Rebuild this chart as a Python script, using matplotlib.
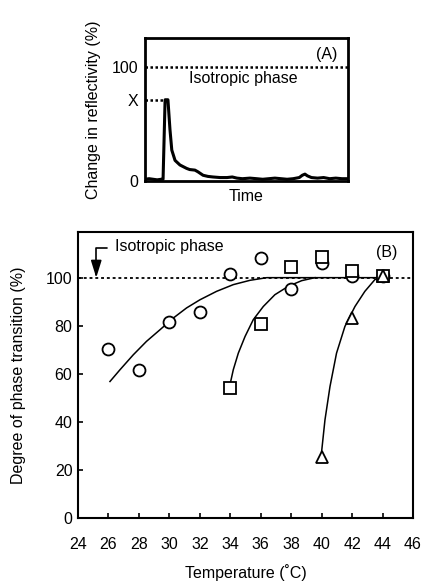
import matplotlib
matplotlib.use("Agg")
import matplotlib.pyplot as plt

plt.rcParams["font.family"] = ["Liberation Sans", "DejaVu Sans"]
plt.rcParams["font.size"] = 11.5

# panel A: reflectivity trace (time in arbitrary units 0-100)
time_a = [0, 2, 4, 6, 8, 8.9, 9.9, 10.5, 11.3, 12.3, 13.2, 14.8, 17.2, 20.5, 22,
          24.6, 26.1, 28.6, 31, 33.5, 37, 40.4, 43, 45.3, 48, 51.7, 55, 58, 61,
          64, 67, 70, 73, 76, 77.5, 78.8, 80, 82, 85, 88, 91, 94, 97, 100]
refl_a = [1.5, 2, 1.5, 1, 1.5, 1.5, 71, 71, 71, 45, 27, 18, 14, 11, 10,
          9.5, 8, 5, 4, 3.5, 3, 3, 3.5, 2.5, 2, 2.5, 2, 1.5, 2,
          2.5, 2, 1.5, 2, 3, 5, 6, 4.5, 3, 2.5, 3, 2, 2.5, 2, 2]
x_level = 71
peak_time = 10.5
yticks_a = [0, x_level, 100]
yticklabels_a = ["0", "X", "100"]

# panel B: degree of phase transition vs temperature
temp_circ = [26, 28, 30, 32, 34, 36, 38, 40, 42, 44]
deg_circ = [70.3, 61.7, 81.4, 85.6, 101.7, 108.3, 95.3, 106, 100.6, 100.6]
temp_sq = [34, 36, 38, 40, 42, 44]
deg_sq = [54.3, 80.7, 104.3, 108.6, 102.6, 100.6]
temp_tri = [40, 42, 44]
deg_tri = [25.5, 83.2, 100.6]

# fitted curves
fit1_t = [26.1, 26.76, 27.63, 28.5, 29.38, 30.26, 31.13, 32.01, 33.1, 34.2,
          35.3, 36.4, 44]
fit1_y = [56.8, 61.7, 67.9, 73.5, 78.3, 83.2, 87.4, 90.8, 94.3, 97.1,
          98.9, 100, 100]
fit2_t = [33.98, 34.2, 34.53, 34.97, 35.51, 36.17, 36.93, 37.81, 38.69, 39.56]
fit2_y = [55.4, 61.7, 68.6, 75.5, 82.5, 88, 92.9, 96.4, 98.75, 100]
fit3_t = [40.0, 40.22, 40.55, 40.98, 41.53, 42.19, 42.84, 43.5, 43.83]
fit3_y = [27.6, 40.8, 54.7, 68.6, 79.7, 88, 94.3, 99.2, 100]

xticks_b = list(range(24, 47, 2))
yticks_b = list(range(0, 101, 20))

fig = plt.figure(figsize=(4.22, 5.81), dpi=100)

# ---- panel A
ax_a = fig.add_axes([0.3436, 0.6885, 0.481, 0.2461])
ax_a.plot(time_a, refl_a, color="black", lw=2.2, solid_joinstyle="round")
ax_a.axhline(100, color="black", lw=1.8, ls=(0, (1, 1)))
ax_a.plot([0, peak_time], [x_level, x_level], color="black", lw=1.8, ls=(0, (1, 1)))
ax_a.text(48.5, 89.5, "Isotropic phase", ha="center", va="center")
ax_a.text(89.6, 111, "(A)", ha="center", va="center")
ax_a.set_xlim(0, 100)
ax_a.set_ylim(0, 125)
ax_a.set_xticks([])
ax_a.set_yticks(yticks_a)
ax_a.set_yticklabels(yticklabels_a)
ax_a.tick_params(axis="y", length=0, pad=5)
for s in ax_a.spines.values():
    s.set_linewidth(2)
ax_a.set_xlabel("Time", va="center")
ax_a.xaxis.set_label_coords(0.5, -0.112)
ax_a.set_ylabel("Change in reflectivity (%)", va="center")
ax_a.yaxis.set_label_coords(-0.256, 0.5)

# ---- panel B
ax_b = fig.add_axes([0.1848, 0.1084, 0.7938, 0.4923])
for t, y in [(fit1_t, fit1_y), (fit2_t, fit2_y), (fit3_t, fit3_y)]:
    ax_b.plot(t, y, color="black", lw=1.1, zorder=2, solid_joinstyle="round")
ax_b.axhline(100, color="black", lw=1.3, ls=(0, (1.6, 1.6)), zorder=1)

mk = dict(ls="none", mfc="white", mec="black", mew=1.3, zorder=3)
ax_b.plot(temp_circ, deg_circ, marker="o", ms=8.6, **mk)
ax_b.plot(temp_sq, deg_sq, marker="s", ms=8.4, **mk)
ax_b.plot(temp_tri, deg_tri, marker="^", ms=9.2, **mk)

ax_b.annotate("", xy=(25.2, 100), xytext=(25.9, 112.4),
              arrowprops=dict(arrowstyle="-|>,head_length=0.9,head_width=0.28",
                              connectionstyle="angle,angleA=0,angleB=90,rad=0",
                              color="black", lw=1.2, shrinkA=0, shrinkB=0))
ax_b.text(26.4, 113, "Isotropic phase", ha="left", va="center")
ax_b.text(44.3, 110.4, "(B)", ha="center", va="center")

ax_b.set_xlim(24, 46)
ax_b.set_ylim(0, 119)
ax_b.set_xticks(xticks_b)
ax_b.set_yticks(yticks_b)
ax_b.tick_params(direction="in", length=3.5, width=1.2)
ax_b.tick_params(axis="x", pad=14)
ax_b.tick_params(axis="y", pad=4)
for s in ax_b.spines.values():
    s.set_linewidth(1.5)
ax_b.set_xlabel("Temperature (\u02daC)", va="center")
ax_b.xaxis.set_label_coords(0.5, -0.192)
ax_b.set_ylabel("Degree of phase transition (%)", va="center")
ax_b.yaxis.set_label_coords(-0.179, 0.5)

fig.savefig("out.png", dpi=100)
